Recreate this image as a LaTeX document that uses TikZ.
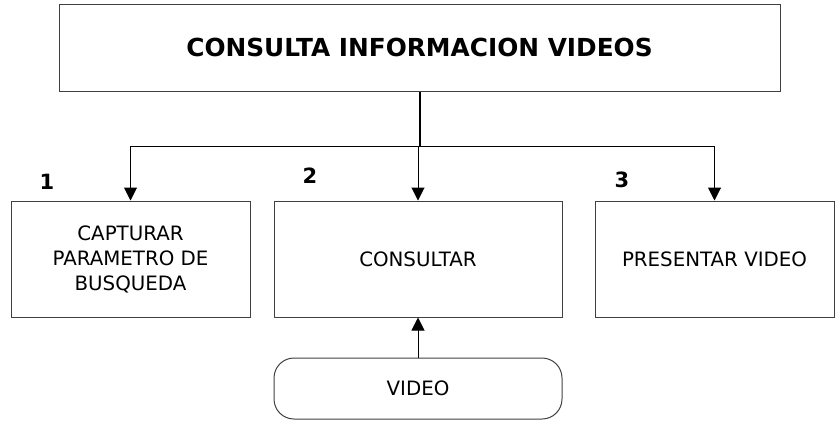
\documentclass[tikz,border=0pt]{standalone}
\usepackage{fontspec}
\setmainfont{DejaVu Sans}
\usetikzlibrary{arrows.meta}

\begin{document}
\begin{tikzpicture}[x=0.5pt,y=-0.5pt,
  box/.style={draw=black!75,line width=0.5pt,inner sep=0pt,align=center,font=\fontsize{9.9}{12.5}\selectfont},
  rbox/.style={box,rounded corners=10pt},
  arr/.style={line width=0.5pt,-{Triangle[width=6.5pt,length=6.5pt]}},
  num/.style={font=\fontsize{10.5}{12}\bfseries\selectfont}]
\useasboundingbox (0,0) rectangle (835,425);
\node[box,minimum width=360.5pt,minimum height=43.5pt,font=\fontsize{12.4}{14}\bfseries\selectfont] (top) at (419.5,47.5) {CONSULTA INFORMACION VIDEOS};
\node[box,minimum width=119.5pt,minimum height=58pt] (capturar) at (130.5,259) {CAPTURAR\\PARAMETRO DE\\BUSQUEDA};
\node[box,minimum width=144pt,minimum height=58pt] (consultar) at (418,259) {CONSULTAR};
\node[box,minimum width=119.5pt,minimum height=58pt] (presentar) at (714.5,259) {PRESENTAR VIDEO};
\node[rbox,minimum width=144pt,minimum height=30.5pt] (video) at (418,388.5) {VIDEO};
\node[num] (n1) at (47,182) {1};
\node[num] (n2) at (310,176) {2};
\node[num] (n3) at (622,180) {3};
\coordinate (hub) at (top.south |- 0,146);
\draw[line width=1pt] (top.south) -- (hub);
\draw[arr] (hub) -| (capturar.north);
\draw[arr] (hub) -- (hub -| consultar.north) -- (consultar.north);
\draw[arr] (hub) -| (presentar.north);
\draw[arr] (video.north) -- (consultar.south);
\end{tikzpicture}
\end{document}
